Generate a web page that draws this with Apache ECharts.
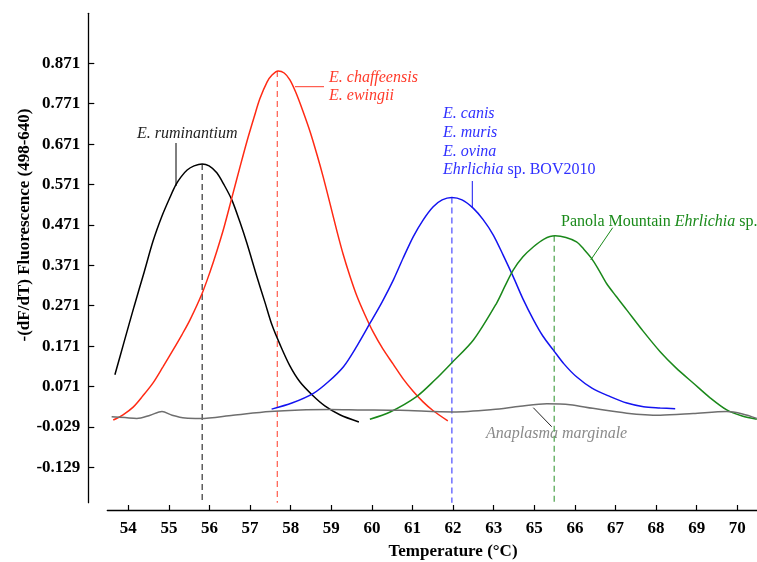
<!DOCTYPE html>
<html>
<head>
<meta charset="utf-8">
<script src="https://cdn.jsdelivr.net/npm/echarts@6/dist/echarts.min.js"></script>
<style>
html,body{margin:0;padding:0;background:#fff;}
#chart{width:757px;height:562px;}
</style>
</head>
<body>
<div id="chart"></div>
<script>
// ---- Tick positions / labels (note: the original axis skips "64") ----
const xTickPositions = [54,55,56,57,58,59,60,61,62,63,64,65,66,67,68,69];
const xTickLabels   = ['54','55','56','57','58','59','60','61','62','63','65','66','67','68','69','70'];
const yTickValues   = [0.871,0.771,0.671,0.571,0.471,0.371,0.271,0.171,0.071,-0.029,-0.129];

// ---- Melt curves (x in axis tick units, y = -(dF/dT)) ----
const ruminantiumX = [53.67,53.89,54.14,54.39,54.61,54.83,55.03,55.17,55.30,55.45,55.62,55.82,55.99,56.18,56.36,56.55,56.75,56.92,57.17,57.37,57.54,57.74,57.98,58.23,58.55,58.84,59.21,59.68];
const ruminantiumY = [0.100,0.179,0.268,0.354,0.431,0.493,0.540,0.570,0.590,0.607,0.617,0.622,0.617,0.600,0.570,0.533,0.478,0.426,0.342,0.278,0.223,0.174,0.122,0.082,0.048,0.023,0.001,-0.017];

const chaffeensisX = [53.63,53.87,54.12,54.36,54.61,54.85,55.10,55.32,55.52,55.82,56.01,56.18,56.36,56.55,56.75,56.92,57.10,57.24,57.42,57.54,57.69,57.84,57.98,58.13,58.30,58.48,58.65,58.80,58.97,59.14,59.29,59.46,59.63,59.83,60.03,60.27,60.52,60.77,61.01,61.26,61.51,61.87];
const chaffeensisY = [-0.012,0.001,0.020,0.048,0.080,0.119,0.161,0.199,0.236,0.302,0.354,0.406,0.466,0.538,0.614,0.677,0.738,0.783,0.825,0.842,0.852,0.847,0.830,0.798,0.753,0.701,0.644,0.590,0.523,0.455,0.399,0.344,0.295,0.248,0.206,0.164,0.127,0.090,0.060,0.033,0.011,-0.014];

const canisX = [57.53,58.03,58.56,58.92,59.30,59.63,59.95,60.25,60.53,60.77,61.02,61.26,61.51,61.73,61.97,62.22,62.50,62.74,62.99,63.23,63.48,63.72,63.98,64.21,64.47,64.73,65.04,65.42,65.87,66.28,66.69,67.10,67.47];
const canisY = [0.015,0.030,0.054,0.082,0.120,0.171,0.227,0.280,0.335,0.389,0.442,0.483,0.516,0.533,0.539,0.533,0.512,0.484,0.446,0.397,0.343,0.288,0.236,0.196,0.161,0.127,0.095,0.067,0.046,0.030,0.021,0.018,0.016];

const panolaX = [59.95,60.45,61.10,61.55,61.97,62.50,63.07,63.28,63.48,63.72,63.98,64.24,64.51,64.78,65.04,65.22,65.41,65.59,65.78,66.01,66.28,66.68,67.10,67.49,67.92,68.33,68.74,69.12,69.48];
const panolaY = [-0.010,0.008,0.046,0.087,0.130,0.186,0.277,0.320,0.359,0.392,0.417,0.436,0.444,0.440,0.429,0.411,0.388,0.359,0.326,0.295,0.260,0.208,0.157,0.117,0.079,0.043,0.013,-0.002,-0.010];

const marginaleX = [53.59,53.92,54.21,54.54,54.83,55.08,55.40,55.77,56.58,57.49,58.23,58.97,59.70,60.69,62.00,62.98,63.65,64.31,64.88,65.44,66.28,67.10,67.91,68.74,69.13,69.48];
const marginaleY = [-0.004,-0.006,-0.008,0.000,0.009,0.000,-0.007,-0.008,0.000,0.009,0.013,0.014,0.013,0.012,0.008,0.014,0.022,0.028,0.026,0.017,0.005,0.000,0.004,0.009,0.003,-0.008];

// ---- Melting peaks (Tm position, peak height) ----
const tmPositions = [55.82, 57.67, 61.97, 64.49];
const tmPeaks     = [0.622, 0.852, 0.539, 0.444];

const Y_VIS_MIN = -0.2166, Y_VIS_MAX = 0.9948;
const SERIF = '"Liberation Serif","DejaVu Serif",serif';

function zip(xs, ys){ return xs.map((x,i)=>[x, ys[i]]); }

const curveColors = ['#000000', '#ff2a14', '#1414f0', '#1a881a', '#6e6e6e'];
const dashColors  = ['#333333', '#ff5a4a', '#4a4aff', '#4aa04a'];
const curves = [
  [ruminantiumX, ruminantiumY],
  [chaffeensisX, chaffeensisY],
  [canisX, canisY],
  [panolaX, panolaY],
  [marginaleX, marginaleY]
];

const series = [];
curves.forEach((c,i)=>{
  series.push({
    type:'line', xAxisIndex:0, yAxisIndex:0, data: zip(c[0], c[1]),
    showSymbol:false, smooth:0.3, silent:true,
    lineStyle:{color:curveColors[i], width:1.5}, z:3
  });
});
tmPositions.forEach((t,i)=>{
  series.push({
    type:'line', xAxisIndex:0, yAxisIndex:0,
    data: [[t, tmPeaks[i]], [t, Y_VIS_MIN]],
    showSymbol:false, silent:true,
    lineStyle:{color:dashColors[i], width:1.2, type:[6,4]}, z:2
  });
});

const italic = {fontFamily:SERIF, fontSize:16, fontStyle:'italic'};
function label(x, y, text, color){
  return {type:'text', x:x, y:y, silent:true,
    style:Object.assign({text:text, fill:color, verticalAlign:'middle', align:'left'}, italic)};
}
function leader(x1,y1,x2,y2,color){
  return {type:'line', silent:true, shape:{x1,y1,x2,y2}, style:{stroke:color, lineWidth:1}};
}
const upright = {fontFamily:SERIF, fontSize:16, fontStyle:'normal'};

const graphics = [
  label(137, 134, 'E. ruminantium', '#222222'),
  leader(176, 143, 176, 186, '#000'),
  label(329, 78, 'E. chaffeensis', '#ff3a2a'),
  label(329, 96, 'E. ewingii', '#ff3a2a'),
  leader(295, 86.7, 324, 86.7, '#ff3a2a'),
  label(443, 114, 'E. canis', '#3030ff'),
  label(443, 133, 'E. muris', '#3030ff'),
  label(443, 152, 'E. ovina', '#3030ff'),
  {type:'text', x:443, y:170, silent:true,
    style:Object.assign({text:'{i|Ehrlichia}{n| sp. BOV2010}', fill:'#3030ff', verticalAlign:'middle', align:'left',
      rich:{i:Object.assign({fill:'#3030ff'}, italic), n:Object.assign({fill:'#3030ff'}, upright)}}, italic)},
  leader(472.3, 181, 472.3, 208, '#1414f0'),
  {type:'text', x:561, y:221.7, silent:true,
    style:Object.assign({text:'{n|Panola Mountain }{i|Ehrlichia}{n| sp.}', fill:'#1a8a1a', verticalAlign:'middle', align:'left',
      rich:{i:Object.assign({fill:'#1a8a1a'}, italic), n:Object.assign({fill:'#1a8a1a'}, upright)}}, italic)},
  leader(612.7, 227.7, 590.7, 260, '#1a8a1a'),
  label(486, 434, 'Anaplasma marginale', '#8a8a8a'),
  leader(533.3, 407.7, 551.7, 426.7, '#222'),
  {type:'text', x:453, y:552, silent:true,
    style:{text:'Temperature (\u00B0C)', fontFamily:SERIF, fontSize:17, fontWeight:'bold', fill:'#000', align:'center', verticalAlign:'middle'}},
  {type:'text', x:25, y:225, rotation:Math.PI/2, silent:true,
    style:{text:'-(dF/dT) Fluorescence (498-640)', fontFamily:SERIF, fontSize:17, fontWeight:'bold', fill:'#000', align:'center', verticalAlign:'middle'}}
];

const chart = echarts.init(document.getElementById('chart'), null, {renderer:'canvas'});
chart.setOption({
  animation:false,
  backgroundColor:'#ffffff',
  textStyle:{fontFamily:SERIF},
  grid:[
    {left:107.3, right:0, top:13.3, bottom:52},
    {left:88.3, width:1, top:13.3, bottom:59.3}
  ],
  xAxis:[
    {type:'value', gridIndex:0, min:53.483, max:69.485,
      axisLine:{show:true, onZero:false, lineStyle:{color:'#000', width:1.3}},
      axisTick:{show:true, inside:true, length:5, customValues:xTickPositions, lineStyle:{color:'#000', width:1.2}},
      axisLabel:{show:true, customValues:xTickPositions, margin:10, color:'#000', fontFamily:SERIF, fontSize:17, fontWeight:'bold',
        formatter:(v)=>{ const k = xTickPositions.indexOf(Math.round(v)); return k>=0 ? xTickLabels[k] : ''; }},
      splitLine:{show:false}},
    {type:'value', gridIndex:1, show:false, min:0, max:1}
  ],
  yAxis:[
    {type:'value', gridIndex:0, show:false, min:-0.2347, max:0.9948, splitLine:{show:false}},
    {type:'value', gridIndex:1, min:Y_VIS_MIN, max:Y_VIS_MAX,
      axisLine:{show:true, onZero:false, lineStyle:{color:'#000', width:1.3}},
      axisTick:{show:true, inside:true, length:6, customValues:yTickValues, lineStyle:{color:'#000', width:1.2}},
      axisLabel:{show:true, customValues:yTickValues, margin:8, color:'#000', fontFamily:SERIF, fontSize:17, fontWeight:'bold',
        formatter:(v)=>v.toFixed(3)},
      splitLine:{show:false}}
  ],
  series: series,
  graphic: graphics
});
</script>
</body>
</html>
